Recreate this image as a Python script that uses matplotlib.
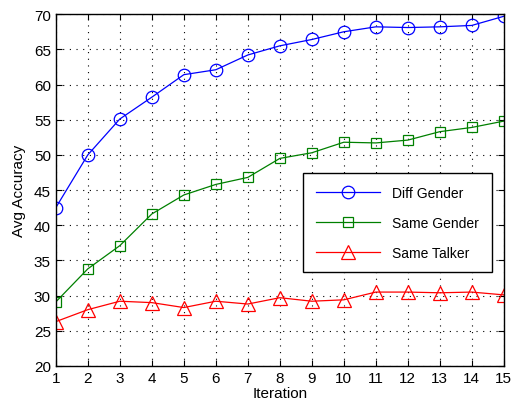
"""Avg accuracy vs iteration (MATLAB-style line plot)."""
import matplotlib
matplotlib.use("Agg")
import matplotlib.pyplot as plt
import numpy as np

plt.rcParams['font.family'] = ['Liberation Sans', 'DejaVu Sans']

iterations = np.arange(1, 16)
diff_gender = [42.5, 50.0, 55.1, 58.2, 61.4, 62.1, 64.2, 65.5, 66.4, 67.5,
               68.2, 68.1, 68.2, 68.4, 69.7]
same_gender = [29.1, 33.8, 37.1, 41.6, 44.3, 45.8, 46.8, 49.5, 50.3, 51.8,
               51.7, 52.1, 53.3, 53.9, 54.8]
same_talker = [26.3, 28.0, 29.2, 29.0, 28.3, 29.2, 28.8, 29.7, 29.2, 29.4,
               30.5, 30.5, 30.4, 30.5, 30.1]

fig = plt.figure(figsize=(5.12, 4.10), dpi=100)
ax = fig.add_axes((0.109, 0.105, 0.875, 0.858))

ax.plot(iterations, diff_gender, color='#0000ff', marker='o', ms=9,
        mfc='none', lw=0.9, mew=0.9, label='Diff Gender')
ax.plot(iterations, same_gender, color='#008000', marker='s', ms=7.5,
        mfc='none', lw=0.9, mew=0.9, label='Same Gender')
ax.plot(iterations, same_talker, color='#ff0000', marker='^', ms=9.5,
        mfc='none', lw=0.9, mew=0.9, label='Same Talker')

ax.set_xlim(1, 15)
ax.set_ylim(20, 70)
ax.set_xticks(iterations)
ax.set_yticks(np.arange(20, 71, 5))
ax.tick_params(direction='in', top=True, right=True, length=4, width=0.8,
               labelsize=11)
ax.grid(True, color='black', linestyle=(0, (1, 5)), linewidth=0.8)
for s in ax.spines.values():
    s.set_linewidth(1.0)

ax.set_xlabel('Iteration', fontsize=11, labelpad=1)
ax.set_ylabel('Avg Accuracy', fontsize=11, labelpad=6)

leg = ax.legend(loc='upper right', bbox_to_anchor=(0.973, 0.548),
                borderaxespad=0, fontsize=10, handlelength=4.6,
                fancybox=False, edgecolor='black', framealpha=1,
                borderpad=0.9, labelspacing=1.15, handletextpad=0.9)
leg.get_frame().set_linewidth(1.0)

fig.savefig('out.png', dpi=100)
